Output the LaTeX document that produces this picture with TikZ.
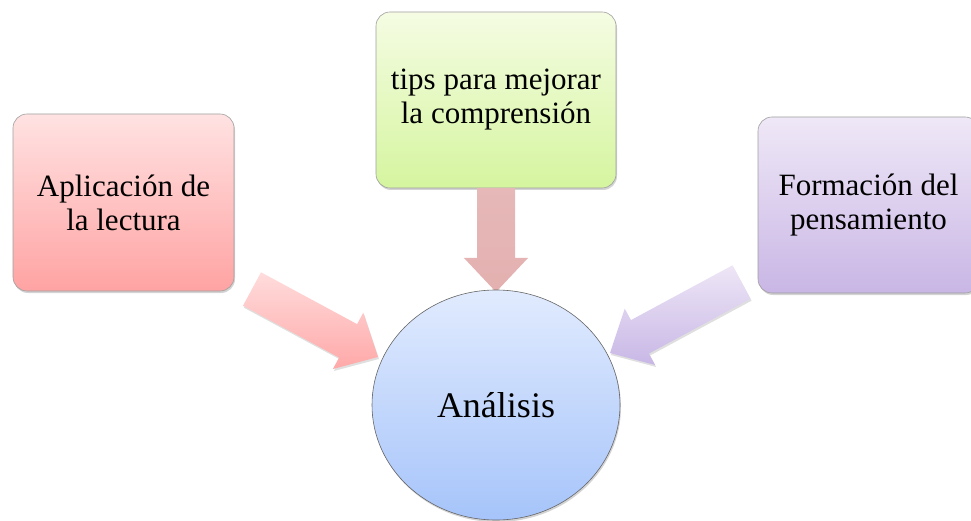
\documentclass[tikz,border=0pt]{standalone}
\usepackage{fontspec}
\setmainfont{Liberation Serif}
\usetikzlibrary{calc,shapes.geometric,shadows}

% Blockpfeil: #1 Anfang, #2 Spitze, #3 Stil
\newcommand{\flecha}[3]{%
	\coordinate (#1-h) at ($(#2)!34pt!(#1)$);
	\path[#3] ($(#1)!19pt!90:(#2)$) -- ($(#1-h)!19pt!90:(#2)$) --
		($(#1-h)!32pt!90:(#2)$) -- (#2) -- ($(#1-h)!32pt!-90:(#2)$) --
		($(#1-h)!19pt!-90:(#2)$) -- ($(#1)!19pt!-90:(#2)$) -- cycle;
}

\begin{document}
\begin{tikzpicture}[
	x=1pt,
	y=-1pt,
	caja/.style={
		draw=gray!75,
		line width=0.6pt,
		rounded corners=14pt,
		minimum width=221pt,
		minimum height=177pt,
		inner sep=0pt,
		align=center,
		font=\fontsize{31}{34}\selectfont,
		drop shadow={opacity=0.35, shadow xshift=1pt, shadow yshift=-2pt}
	},
	sombra/.style={
		drop shadow={opacity=0.25, shadow xshift=1pt, shadow yshift=-2pt}
	},
	rosa/.style={
		top color={rgb,255:red,255;green,220;blue,220},
		bottom color={rgb,255:red,255;green,168;blue,168}
	},
	malva/.style={
		top color={rgb,255:red,230;green,184;blue,184},
		bottom color={rgb,255:red,228;green,176;blue,176}
	},
	lila/.style={
		top color={rgb,255:red,238;green,230;blue,246},
		bottom color={rgb,255:red,200;green,183;blue,230}
	}
]
	\useasboundingbox (0,0) rectangle (971,521);
	% Cajas
	\node[
		caja,
		top color={rgb,255:red,255;green,226;blue,226},
		bottom color={rgb,255:red,255;green,163;blue,163}
	] (aplic) at (123.5,202.5) {Aplicación de\\la lectura};
	\node[
		caja,
		minimum width=240pt,
		minimum height=176pt,
		top color={rgb,255:red,245;green,252;blue,227},
		bottom color={rgb,255:red,213;green,245;blue,159}
	] (tips) at (496,100) {tips para mejorar\\la comprensión};
	\node[
		caja,
		minimum height=176pt,
		top color={rgb,255:red,239;green,232;blue,247},
		bottom color={rgb,255:red,201;green,182;blue,229}
	] (formac) at (868.5,205) {Formación del\\pensamiento};
	% Flechas
	\coordinate (ini-a) at (252,289);
	\coordinate (fin-a) at (378,357);
	\coordinate (ini-t) at (496,188);
	\coordinate (fin-t) at (496,292);
	\coordinate (ini-f) at (741.5,282);
	\coordinate (fin-f) at (610,353);
	\flecha{ini-a}{fin-a}{sombra,rosa}
	\flecha{ini-t}{fin-t}{malva}
	\flecha{ini-f}{fin-f}{sombra,lila}
	% Circulo
	\node[
		ellipse,
		draw=gray!80!black,
		line width=0.6pt,
		minimum width=248pt,
		minimum height=230pt,
		inner sep=0pt,
		font=\fontsize{36}{40}\selectfont,
		top color={rgb,255:red,225;green,235;blue,254},
		bottom color={rgb,255:red,166;green,196;blue,250},
		drop shadow={opacity=0.35, shadow xshift=1pt, shadow yshift=-2pt}
	] (anal) at (496,405) {Análisis};

\end{tikzpicture}
\end{document}
